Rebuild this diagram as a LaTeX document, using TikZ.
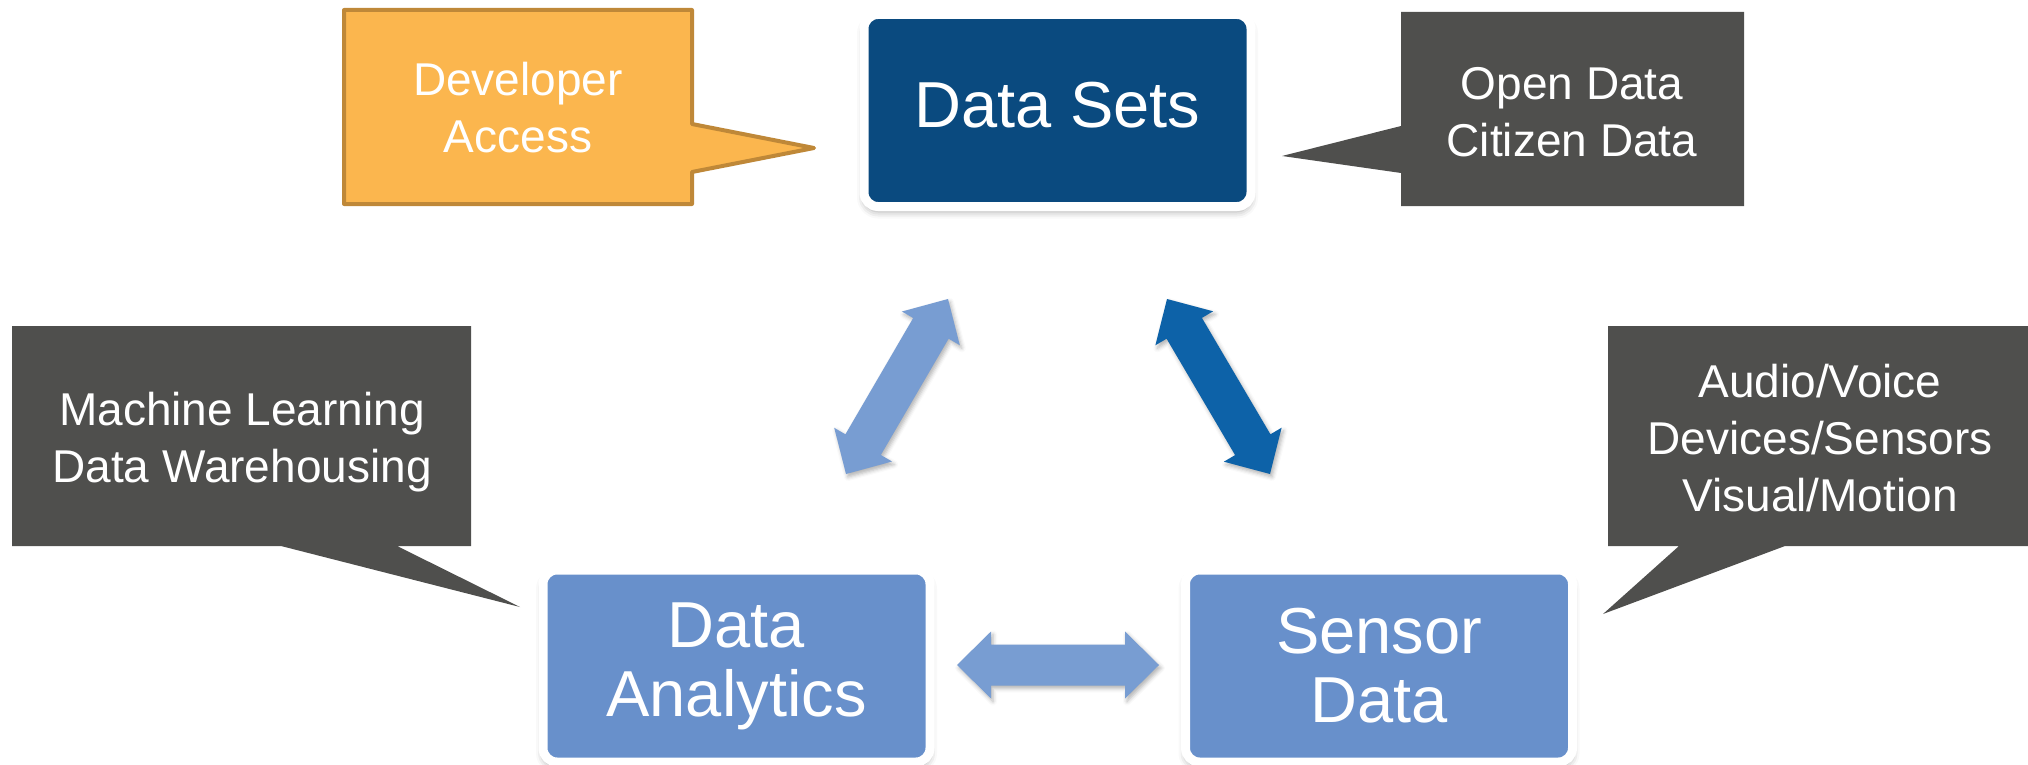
\documentclass[tikz,border=0pt]{standalone}
\usepackage{fontspec}
\setmainfont{Liberation Sans}
\usetikzlibrary{calc,shadows.blur}

\definecolor{setsblue}{HTML}{0A4A7F}
\definecolor{boxblue}{HTML}{6890CB}
\definecolor{arrowlight}{HTML}{789DD2}
\definecolor{arrowdark}{HTML}{0D62A8}
\definecolor{calloutgray}{HTML}{4F4F4D}
\definecolor{calloutorange}{HTML}{FBB64E}
\definecolor{orangeedge}{HTML}{BF8838}

\tikzset{
  stagebox/.style={rectangle, rounded corners=14pt, draw=white, line width=9pt,
    minimum width=387pt, minimum height=192pt, inner sep=0pt, text=white,
    align=center, font=\fontsize{65}{69}\selectfont,
    blur shadow={shadow xshift=0pt, shadow yshift=-5pt, shadow blur radius=7pt, shadow opacity=35}},
  bubble/.style={fill=calloutgray},
  devbubble/.style={fill=calloutorange, draw=orangeedge, line width=4pt, line join=round},
  bubbletext/.style={text=white, align=center, font=\fontsize{46}{57}\selectfont, inner sep=0pt},
  blockshadow/.style={blur shadow={shadow xshift=2pt, shadow yshift=-3pt, shadow blur radius=4pt, shadow opacity=30}},
}

% double-headed block arrow between two named points
\newcommand\dblblock[3]{%
  \fill[#3] (#1)
    -- ($(#1)!34pt!(#2)!33.5pt!90:(#2)$)
    -- ($(#1)!34pt!(#2)!20.5pt!90:(#2)$)
    -- ($(#2)!34pt!(#1)!20.5pt!270:(#1)$)
    -- ($(#2)!34pt!(#1)!33.5pt!270:(#1)$)
    -- (#2)
    -- ($(#2)!34pt!(#1)!33.5pt!90:(#1)$)
    -- ($(#2)!34pt!(#1)!20.5pt!90:(#1)$)
    -- ($(#1)!34pt!(#2)!20.5pt!270:(#2)$)
    -- ($(#1)!34pt!(#2)!33.5pt!270:(#2)$)
    -- cycle;}

\begin{document}
\begin{tikzpicture}[x=1pt,y=-1pt]
\useasboundingbox (0,0) rectangle (2028,765);

% speech bubbles
\coordinate (devtip) at (814,148);
\coordinate (opentip) at (1282,156);
\coordinate (mltip) at (520,607);
\coordinate (audtip) at (1603,614);

\path[devbubble] (344,10) -- (692,10) -- (692,124) -- (devtip) -- (692,172)
  -- (692,204) -- (344,204) -- cycle;
\path[bubble] (1401,12) -- (1744,12) -- (1744,206) -- (1401,206) -- (1401,173)
  -- (opentip) -- (1401,126) -- cycle;
\path[bubble] (12,326) -- (471,326) -- (471,546) -- (397,546) -- (mltip)
  -- (281,546) -- (12,546) -- cycle;
\path[bubble] (1608,326) -- (2028,326) -- (2028,546) -- (1785,546) -- (audtip)
  -- (1679,546) -- (1608,546) -- cycle;

\node[bubbletext] (devtxt) at (518,108) {Developer\\Access};
\node[bubbletext] (opentxt) at (1572,112) {Open Data\\Citizen Data};
\node[bubbletext] (mltxt) at (242,442) {Machine Learning\\Data Warehousing};
\node[bubbletext] (audtxt) at (1820,438) {Audio/Voice\\Devices/Sensors\\Visual/Motion};

% the three stages
\node[stagebox, fill=setsblue, text height=47pt, text depth=12pt] (sets) at (1057.5,110.5) {Data Sets};
\node[stagebox, fill=boxblue] (analytics) at (736.5,666) {Data\\Analytics};
\node[stagebox, fill=boxblue] (sensor) at (1379,666) {Sensor\\Data};

% exchange arrows
\coordinate (la1) at (948,299);
\coordinate (la2) at (846,474);
\coordinate (ra1) at (1167,299);
\coordinate (ra2) at (1270,474);
\coordinate (ha1) at (957,665);
\coordinate (ha2) at (1159,665);

\dblblock{la1}{la2}{arrowlight, blockshadow}
\dblblock{ra1}{ra2}{arrowdark, blockshadow}
\dblblock{ha1}{ha2}{arrowlight, blockshadow}
\end{tikzpicture}
\end{document}
